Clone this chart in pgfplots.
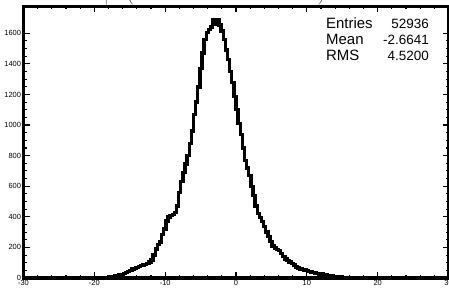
\documentclass[border=0pt]{standalone}
\usepackage{pgfplots}
\pgfplotsset{compat=1.18}
\usepackage{fontspec}
\setmainfont{Liberation Sans}
\begin{document}
\begin{tikzpicture}
\useasboundingbox (-23.5bp,-12bp) rectangle (425.5bp,278bp);
\begin{axis}[
  at={(0,0)}, anchor=south west,
  scale only axis, width=425bp, height=271.5bp,
  xmin=-30, xmax=30, ymin=0, ymax=1775,
  axis line style={line width=3.6bp},
  tick align=inside,
  tick style={black, line width=1.1bp},
  major tick length=6bp, minor tick length=3bp,
  xtick={-30,-20,-10,0,10,20,30},
  xticklabels={-30,-20,-10,0,10,20,30},
  ytick={0,200,400,600,800,1000,1200,1400,1600},
  yticklabels={0,200,400,600,800,1000,1200,1400,1600},
  minor x tick num=4, minor y tick num=3,
  tick label style={font=\fontsize{7.5}{8}\selectfont},
  yticklabel style={xshift=1bp},
  xticklabel style={yshift=1bp},
  clip=false,
]
\addplot[const plot mark left, line width=3.4bp, black] table {
x y
-30 0
-18.3 4
-18.0 6
-17.7 7
-17.4 10
-17.1 12
-16.8 16
-16.5 20
-16.2 24
-15.9 30
-15.6 36
-15.3 42
-15.0 48
-14.7 58
-14.4 64
-14.1 70
-13.8 76
-13.5 80
-13.2 84
-12.9 90
-12.6 96
-12.3 104
-12.0 118
-11.7 150
-11.4 190
-11.1 218
-10.8 235
-10.5 285
-10.2 320
-9.9 372
-9.6 398
-9.3 408
-9.0 416
-8.7 428
-8.4 470
-8.1 560
-7.8 630
-7.5 690
-7.2 745
-6.9 800
-6.6 880
-6.3 960
-6.0 1070
-5.7 1150
-5.4 1250
-5.1 1370
-4.8 1470
-4.5 1560
-4.2 1605
-3.9 1625
-3.6 1640
-3.3 1690
-3.0 1660
-2.7 1690
-2.4 1655
-2.1 1615
-1.8 1560
-1.5 1490
-1.2 1430
-0.9 1350
-0.6 1280
-0.3 1185
0.0 1100
0.3 1010
0.6 940
0.9 850
1.2 770
1.5 720
1.8 670
2.1 600
2.4 540
2.7 470
3.0 420
3.3 395
3.6 370
3.9 335
4.2 300
4.5 270
4.8 240
5.1 210
5.4 195
5.7 188
6.0 180
6.3 160
6.6 140
6.9 125
7.2 115
7.5 105
7.8 95
8.1 85
8.4 72
8.7 66
9.0 60
9.3 56
9.6 52
9.9 48
10.2 44
10.5 40
10.8 37
11.1 33
11.4 30
11.7 27
12.0 25
12.3 22
12.6 20
12.9 17
13.2 15
13.5 13
13.8 11
14.1 10
14.4 8
14.7 7
15.0 5
15.3 4
15.6 3
15.9 3
16.2 2
16.5 2
16.8 1
17.1 1
17.4 0
30 0
};
\end{axis}
\begin{scope}[every node/.style={inner sep=0pt, font=\fontsize{15}{17}\selectfont}]
\node[anchor=base west] at (302.5bp,249.7bp) {Entries};
\node[anchor=base west] at (302.5bp,233bp) {Mean};
\node[anchor=base west] at (302.5bp,217bp) {RMS};
\end{scope}
\begin{scope}[every node/.style={inner sep=0pt, font=\fontsize{13.5}{16}\selectfont}]
\node[anchor=base east] at (405.5bp,249.7bp) {52936};
\node[anchor=base east] at (405.5bp,233bp) {-2.6641};
\node[anchor=base east] at (405.5bp,217bp) {4.5200};
\end{scope}
\node[anchor=south west, inner sep=0pt, font=\fontsize{12}{14}\selectfont] at (81bp,272.5bp) {$\biggl|\hspace{18bp}\biggl(\hspace{185bp}\biggr)$};
\end{tikzpicture}
\end{document}
